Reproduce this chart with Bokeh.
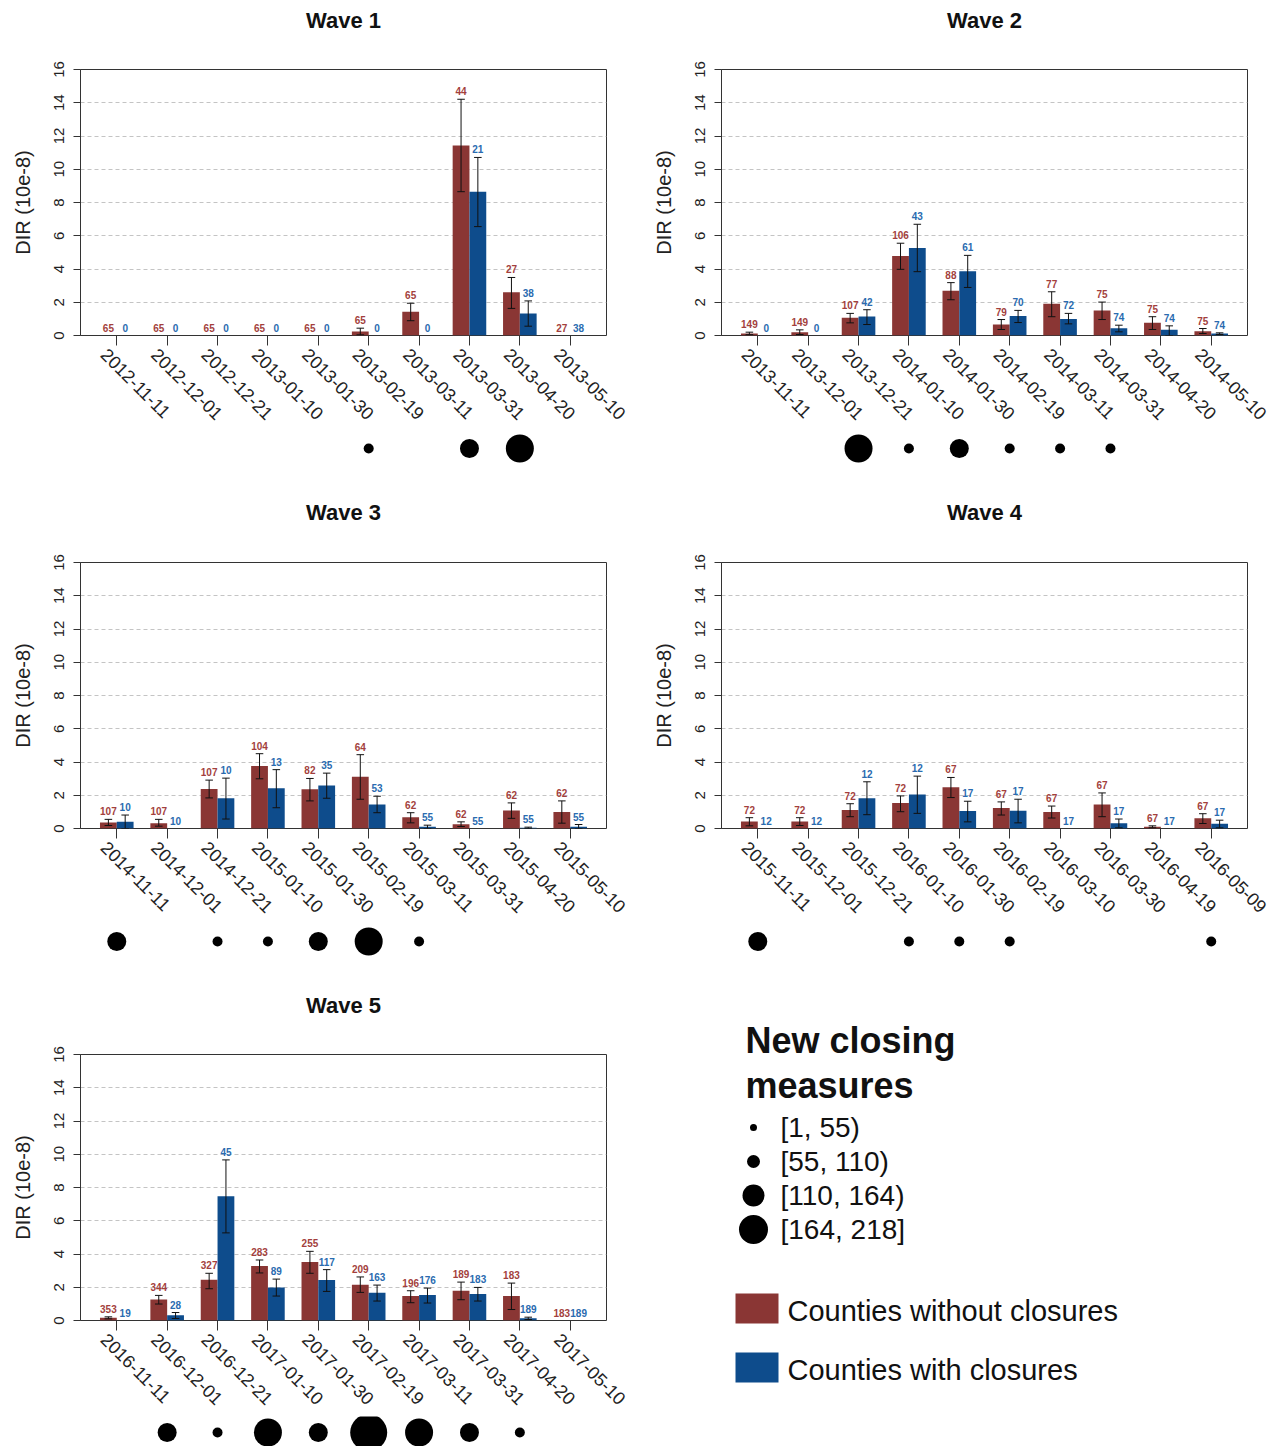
import math
from bokeh.plotting import figure
from bokeh.layouts import column, row
from bokeh.models import Range1d, FixedTicker
from bokeh.core.properties import value
from bokeh.embed import file_html
from bokeh.resources import INLINE

FONT = "Liberation Sans"
RED = "#8a3634"
BLUE = "#0e4c8c"
RED_TXT = "#a33f3d"
BLUE_TXT = "#2a6bb0"
AXIS = "#333333"

# ---------------- data ----------------
wave_titles = ["Wave 1", "Wave 2", "Wave 3", "Wave 4", "Wave 5"]

w1_dates = ["2012-11-11", "2012-12-01", "2012-12-21", "2013-01-10", "2013-01-30",
            "2013-02-19", "2013-03-11", "2013-03-31", "2013-04-20", "2013-05-10"]
w1_without = [0, 0, 0, 0, 0, 0.24, 1.43, 11.43, 2.60, 0]
w1_without_lo = [0, 0, 0, 0, 0, 0.04, 0.89, 8.65, 1.63, 0]
w1_without_hi = [0, 0, 0, 0, 0, 0.44, 1.94, 14.21, 3.49, 0]
w1_with = [0, 0, 0, 0, 0, 0, 0, 8.65, 1.33, 0]
w1_with_lo = [0, 0, 0, 0, 0, 0, 0, 6.55, 0.56, 0]
w1_with_hi = [0, 0, 0, 0, 0, 0, 0, 10.71, 2.08, 0]
w1_n_without = [65, 65, 65, 65, 65, 65, 65, 44, 27, 27]
w1_n_with = [0, 0, 0, 0, 0, 0, 0, 21, 38, 38]
w1_closing = [0, 0, 0, 0, 0, 1, 0, 2, 3, 0]

w2_dates = ["2013-11-11", "2013-12-01", "2013-12-21", "2014-01-10", "2014-01-30",
            "2014-02-19", "2014-03-11", "2014-03-31", "2014-04-20", "2014-05-10"]
w2_without = [0.12, 0.20, 1.07, 4.78, 2.69, 0.66, 1.91, 1.51, 0.76, 0.26]
w2_without_lo = [0.05, 0.06, 0.76, 3.98, 2.15, 0.36, 1.13, 0.96, 0.36, 0.12]
w2_without_hi = [0.20, 0.34, 1.33, 5.55, 3.18, 0.96, 2.63, 2.01, 1.13, 0.42]
w2_with = [0, 0, 1.15, 5.27, 3.86, 1.17, 1.00, 0.44, 0.34, 0.12]
w2_with_lo = [0, 0, 0.66, 3.84, 2.89, 0.78, 0.70, 0.22, 0.0, 0.06]
w2_with_hi = [0, 0, 1.55, 6.69, 4.82, 1.51, 1.33, 0.62, 0.58, 0.16]
w2_n_without = [149, 149, 107, 106, 88, 79, 77, 75, 75, 75]
w2_n_with = [0, 0, 42, 43, 61, 70, 72, 74, 74, 74]
w2_closing = [0, 0, 3, 1, 2, 1, 1, 1, 0, 0]

w3_dates = ["2014-11-11", "2014-12-01", "2014-12-21", "2015-01-10", "2015-01-30",
            "2015-02-19", "2015-03-11", "2015-03-31", "2015-04-20", "2015-05-10"]
w3_without = [0.36, 0.32, 2.38, 3.76, 2.36, 3.11, 0.67, 0.26, 1.09, 0.99]
w3_without_lo = [0.18, 0.14, 1.84, 2.99, 1.66, 1.76, 0.34, 0.12, 0.61, 0.32]
w3_without_hi = [0.55, 0.55, 2.91, 4.50, 3.01, 4.44, 0.95, 0.40, 1.54, 1.66]
w3_with = [0.40, 0, 1.82, 2.42, 2.59, 1.45, 0.10, 0, 0.04, 0.10]
w3_with_lo = [0.0, 0, 0.57, 1.25, 1.82, 0.95, 0.0, 0, 0.0, 0.0]
w3_with_hi = [0.81, 0, 3.03, 3.54, 3.33, 1.94, 0.20, 0, 0.08, 0.24]
w3_n_without = [107, 107, 107, 104, 82, 64, 62, 62, 62, 62]
w3_n_with = [10, 10, 10, 13, 35, 53, 55, 55, 55, 55]
w3_closing = [2, 0, 1, 1, 2, 3, 1, 0, 0, 0]

w4_dates = ["2015-11-11", "2015-12-01", "2015-12-21", "2016-01-10", "2016-01-30",
            "2016-02-19", "2016-03-10", "2016-03-30", "2016-04-19", "2016-05-09"]
w4_without = [0.42, 0.42, 1.11, 1.54, 2.48, 1.23, 0.99, 1.45, 0.10, 0.61]
w4_without_lo = [0.16, 0.18, 0.71, 1.01, 1.86, 0.81, 0.63, 0.71, 0.04, 0.30]
w4_without_hi = [0.65, 0.65, 1.49, 1.96, 3.07, 1.60, 1.35, 2.14, 0.16, 0.89]
w4_with = [0, 0, 1.82, 2.04, 1.05, 1.07, 0, 0.32, 0, 0.28]
w4_with_lo = [0, 0, 0.83, 0.91, 0.40, 0.34, 0, 0.04, 0, 0.04]
w4_with_hi = [0, 0, 2.81, 3.15, 1.64, 1.76, 0, 0.57, 0, 0.50]
w4_n_without = [72, 72, 72, 72, 67, 67, 67, 67, 67, 67]
w4_n_with = [12, 12, 12, 12, 17, 17, 17, 17, 17, 17]
w4_closing = [2, 0, 0, 1, 1, 1, 0, 0, 0, 1]

w5_dates = ["2016-11-11", "2016-12-01", "2016-12-21", "2017-01-10", "2017-01-30",
            "2017-02-19", "2017-03-11", "2017-03-31", "2017-04-20", "2017-05-10"]
w5_without = [0.16, 1.27, 2.45, 3.28, 3.52, 2.15, 1.47, 1.79, 1.47, 0]
w5_without_lo = [0.10, 0.99, 1.91, 2.86, 2.84, 1.69, 1.07, 1.25, 0.66, 0]
w5_without_hi = [0.22, 1.51, 2.84, 3.64, 4.16, 2.62, 1.79, 2.31, 2.25, 0]
w5_with = [0, 0.32, 7.48, 1.99, 2.43, 1.67, 1.53, 1.59, 0.14, 0]
w5_with_lo = [0, 0.12, 5.27, 1.47, 1.75, 1.17, 1.05, 1.17, 0.06, 0]
w5_with_hi = [0, 0.48, 9.66, 2.49, 3.06, 2.13, 1.95, 1.99, 0.20, 0]
w5_n_without = [353, 344, 327, 283, 255, 209, 196, 189, 183, 183]
w5_n_with = [19, 28, 45, 89, 117, 163, 176, 183, 189, 189]
w5_closing = [0, 2, 1, 3, 2, 4, 3, 2, 1, 0]

y_ticks = [0, 2, 4, 6, 8, 10, 12, 14, 16]
closing_labels = ["[1, 55)", "[55, 110)", "[110, 164)", "[164, 218]"]
series_labels = ["Counties without closures", "Counties with closures"]
legend_title = ["New closing", "measures"]

# ---------------- styles ----------------
DOT_SIZES = [0, 10, 19, 28, 37]
LEG_DOT_SIZES = [7, 13, 22, 29]
FRAME_W = 526
FRAME_H = 266
TOP_B = 10
BOT_B = 96
LEFT_B = 80
BAR_W = 1.0 / 3.0
CAP = 0.075
LABEL_SHIFT = 0.25
X0, X1 = 0.28, 10.72


def strip_fig(width, height, right_b, x_range, y_range):
    f = figure(width=width, height=height, x_range=x_range, y_range=y_range,
               output_backend="svg", toolbar_location=None, min_border_left=LEFT_B,
               min_border_right=right_b, min_border_top=0, min_border_bottom=0,
               x_axis_location=None, y_axis_location=None, outline_line_color=None)
    f.xgrid.visible = False
    f.ygrid.visible = False
    return f


def make_panel(title, dates, wo, wo_lo, wo_hi, wi, wi_lo, wi_hi, n_wo, n_wi, closing,
               right_b, title_h, title_c, dots_h, dots_c):
    n = len(dates)
    idx = list(range(1, n + 1))
    width = LEFT_B + FRAME_W + right_b
    p = figure(width=width, height=TOP_B + FRAME_H + BOT_B, x_range=Range1d(X0, X1),
               y_range=Range1d(0, 16), output_backend="svg", toolbar_location=None,
               min_border_left=LEFT_B, min_border_right=right_b,
               min_border_top=TOP_B, min_border_bottom=BOT_B)
    p.outline_line_color = AXIS
    p.outline_line_width = 1
    p.background_fill_color = "white"
    p.border_fill_color = "white"

    # grid
    p.xgrid.visible = False
    p.ygrid.ticker = FixedTicker(ticks=y_ticks)
    p.ygrid.grid_line_color = "#c4c4c4"
    p.ygrid.grid_line_dash = "4 3"
    p.ygrid.grid_line_width = 1

    # y axis
    ya = p.yaxis[0]
    ya.ticker = FixedTicker(ticks=y_ticks)
    ya.axis_label = "DIR (10e-8)"
    ya.axis_label_text_font = FONT
    ya.axis_label_text_font_size = "20px"
    ya.axis_label_text_font_style = "normal"
    ya.axis_label_text_color = "#222222"
    ya.axis_label_standoff = 17
    ya.major_label_orientation = "vertical"
    ya.major_label_text_font = FONT
    ya.major_label_text_font_size = "15px"
    ya.major_label_text_color = "#222222"
    ya.major_label_standoff = 10
    ya.major_tick_out = 7
    ya.major_tick_in = 0
    ya.minor_tick_line_color = None
    ya.axis_line_color = AXIS
    ya.major_tick_line_color = AXIS

    # x axis: tick marks at the periods (minor), labels shifted like the original
    xa = p.xaxis[0]
    label_pos = [i - LABEL_SHIFT for i in idx]
    xa.ticker = FixedTicker(ticks=label_pos, minor_ticks=idx)
    xa.major_label_overrides = {lp: d for lp, d in zip(label_pos, dates)}
    xa.major_tick_out = 0
    xa.major_tick_in = 0
    xa.major_tick_line_color = None
    xa.minor_tick_out = 10
    xa.minor_tick_in = 0
    xa.minor_tick_line_color = AXIS
    xa.axis_line_color = None
    xa.major_label_orientation = -math.pi / 4
    xa.major_label_text_font = FONT
    xa.major_label_text_font_size = "18px"
    xa.major_label_text_color = "#222222"
    xa.major_label_standoff = 6

    xr = [i - BAR_W / 2 for i in idx]
    xb = [i + BAR_W / 2 for i in idx]

    p.vbar(x=xr, top=wo, bottom=0, width=BAR_W, fill_color=RED, line_color=None)
    p.vbar(x=xb, top=wi, bottom=0, width=BAR_W, fill_color=BLUE, line_color=None)

    for xs, lo, hi in ((xr, wo_lo, wo_hi), (xb, wi_lo, wi_hi)):
        ex = [x for x, l, h in zip(xs, lo, hi) if h > l]
        el = [l for l, h in zip(lo, hi) if h > l]
        eh = [h for l, h in zip(lo, hi) if h > l]
        p.segment(x0=ex, y0=el, x1=ex, y1=eh, line_color="#111111", line_width=1)
        p.segment(x0=[x - CAP for x in ex], y0=eh, x1=[x + CAP for x in ex], y1=eh,
                  line_color="#111111", line_width=1)
        p.segment(x0=[x - CAP for x in ex], y0=el, x1=[x + CAP for x in ex], y1=el,
                  line_color="#111111", line_width=1)

    for xs, v, hi, cnt, col in ((xr, wo, wo_hi, n_wo, RED_TXT), (xb, wi, wi_hi, n_wi, BLUE_TXT)):
        p.text(x=xs, y=[max(a, b) for a, b in zip(v, hi)], text=[str(c) for c in cnt],
               y_offset=-8, text_align="center", text_baseline="middle",
               text_font=value(FONT), text_font_size="10px", text_font_style="bold",
               text_color=col)

    # title strip
    t = strip_fig(width, title_h, right_b, p.x_range, Range1d(title_h, 0))
    t.text(x=[(X0 + X1) / 2], y=[title_c], text=[title], text_align="center",
           text_baseline="middle", text_font=value(FONT), text_font_size="22px",
           text_font_style="bold", text_color="#111111")

    # dots row for new closing measures
    d = strip_fig(width, dots_h, right_b, p.x_range, Range1d(-(dots_h - dots_c), dots_c))
    dx = [i for i, c in zip(idx, closing) if c > 0]
    ds = [DOT_SIZES[c] for c in closing if c > 0]
    d.scatter(x=dx, y=[0] * len(dx), size=ds, marker="circle", fill_color="black",
              line_color=None)
    return column(t, p, d, spacing=0)


LEFT_R = 35
RIGHT_R = 30

pan1 = make_panel(wave_titles[0], w1_dates, w1_without, w1_without_lo, w1_without_hi,
                  w1_with, w1_with_lo, w1_with_hi, w1_n_without, w1_n_with, w1_closing,
                  LEFT_R, 59, 20, 70, 17)
pan2 = make_panel(wave_titles[1], w2_dates, w2_without, w2_without_lo, w2_without_hi,
                  w2_with, w2_with_lo, w2_with_hi, w2_n_without, w2_n_with, w2_closing,
                  RIGHT_R, 59, 20, 70, 17)
pan3 = make_panel(wave_titles[2], w3_dates, w3_without, w3_without_lo, w3_without_hi,
                  w3_with, w3_with_lo, w3_with_hi, w3_n_without, w3_n_with, w3_closing,
                  LEFT_R, 51, 11, 69, 17)
pan4 = make_panel(wave_titles[3], w4_dates, w4_without, w4_without_lo, w4_without_hi,
                  w4_with, w4_with_lo, w4_with_hi, w4_n_without, w4_n_with, w4_closing,
                  RIGHT_R, 51, 11, 69, 17)
pan5 = make_panel(wave_titles[4], w5_dates, w5_without, w5_without_lo, w5_without_hi,
                  w5_with, w5_with_lo, w5_with_hi, w5_n_without, w5_n_with, w5_closing,
                  LEFT_R, 51, 12, 30, 16)

# ---------------- legend ----------------
LEG_W = LEFT_B + FRAME_W + RIGHT_R
LEG_H = 51 + TOP_B + FRAME_H + BOT_B + 30
leg = figure(width=LEG_W, height=LEG_H, x_range=Range1d(0, LEG_W), y_range=Range1d(LEG_H, 0),
             output_backend="svg", toolbar_location=None, min_border=0,
             x_axis_location=None, y_axis_location=None, outline_line_color=None)
leg.xgrid.visible = False
leg.ygrid.visible = False
leg.text(x=[104] * len(legend_title), y=[47 + 45 * k for k in range(len(legend_title))],
         text=legend_title, text_align="left", text_baseline="middle",
         text_font=value(FONT), text_font_size="36px", text_font_style="bold",
         text_color="#111111")
ky = [134 + 34 * k for k in range(len(closing_labels))]
leg.scatter(x=[112] * len(ky), y=ky, size=LEG_DOT_SIZES, marker="circle",
            fill_color="black", line_color=None)
leg.text(x=[139] * len(ky), y=ky, text=closing_labels, text_align="left",
         text_baseline="middle", text_font=value(FONT), text_font_size="28px",
         text_color="#111111")
sy = [315 + 59 * k for k in range(len(series_labels))]
leg.rect(x=[115.5] * 2, y=sy, width=43, height=30, fill_color=[RED, BLUE], line_color=None)
leg.text(x=[146] * 2, y=[s + 2 for s in sy], text=series_labels, text_align="left",
         text_baseline="middle", text_font=value(FONT), text_font_size="29px",
         text_color="#111111")

layout = column(row(pan1, pan2, spacing=0), row(pan3, pan4, spacing=0),
                row(pan5, leg, spacing=0), spacing=0)

open("out.html", "w").write(file_html(layout, INLINE))
